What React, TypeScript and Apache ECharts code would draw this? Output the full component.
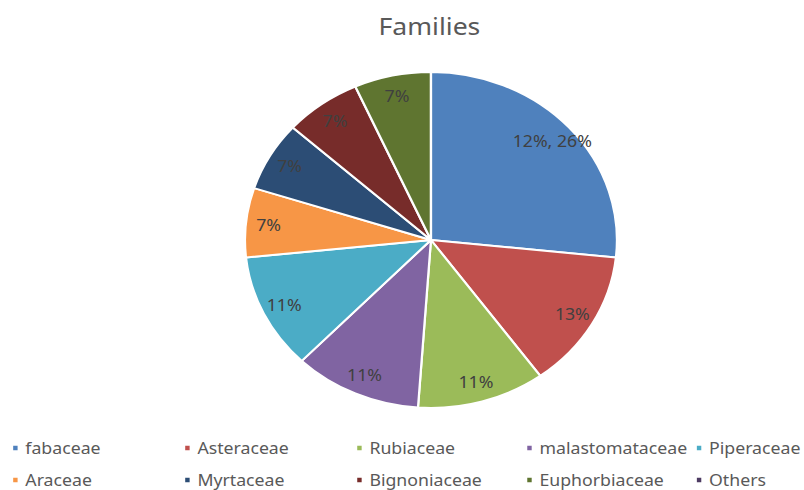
import React, { useEffect, useRef } from "react";
import * as echarts from "echarts";

const categories = [
  "fabaceae",
  "Asteraceae",
  "Rubiaceae",
  "malastomataceae",
  "Piperaceae",
  "Araceae",
  "Myrtaceae",
  "Bignoniaceae",
  "Euphorbiaceae",
  "Others",
];
const values = [12, 6, 5, 5, 5, 3, 3, 3, 3, 0];
const sliceLabels = ["12%, 26%", "13%", "11%", "11%", "11%", "7%", "7%", "7%", "7%", ""];
const colors = [
  "#4F81BD",
  "#C0504D",
  "#9BBB59",
  "#8064A2",
  "#4BACC6",
  "#F79646",
  "#2C4D75",
  "#772C2A",
  "#5F7530",
  "#4D3B62",
];
const titleText = "Families";

const STRETCH = 1.107;
const W = 804 / STRETCH;
const H = 490;

export default function App() {
  const ref = useRef<HTMLDivElement>(null);
  useEffect(() => {
    if (!ref.current) return;
    const chart = echarts.init(ref.current, undefined, { renderer: "svg" });
    const font = "'Noto Sans', 'Open Sans', sans-serif";
    const colLeft = [9.9, 165.3, 320.7, 474.3, 627.5];
    const rowTop = [440, 472];
    const legends = categories.map((name, i) => ({
      data: [name],
      left: colLeft[i % 5],
      top: rowTop[Math.floor(i / 5)],
      padding: 0,
      orient: "horizontal",
      icon: "rect",
      itemWidth: 6,
      itemHeight: 6.5,
      selectedMode: false,
      textStyle: { fontFamily: font, fontSize: 16, color: "#595959", padding: [0, 0, 0, 1] },
    }));
    const data = categories.map((name, i) => ({
      name,
      value: values[i],
      itemStyle: { color: colors[i] },
    }));
    chart.setOption({
      animation: false,
      color: colors,
      title: {
        text: titleText,
        left: 342,
        top: 14,
        padding: 0,
        textStyle: { fontFamily: font, fontSize: 24, fontWeight: "normal", color: "#595959" },
      },
      legend: legends,
      series: [
        {
          type: "pie",
          center: [389.3, 240],
          radius: [0, 168],
          startAngle: 90,
          clockwise: true,
          silent: true,
          data,
          itemStyle: { borderColor: "#ffffff", borderWidth: 2 },
          label: { show: false },
          labelLine: { show: false },
          emphasis: { disabled: true },
        },
        {
          type: "pie",
          center: [389.3, 240],
          radius: [121, 168],
          startAngle: 90,
          clockwise: true,
          silent: true,
          data: categories.map((name, i) => ({ name, value: values[i] })),
          itemStyle: { color: "transparent", borderWidth: 0 },
          label: {
            show: true,
            position: "inside",
            formatter: (p: any) => sliceLabels[p.dataIndex],
            fontFamily: font,
            fontSize: 16,
            color: "#404040",
          },
          labelLine: { show: false },
          emphasis: { disabled: true },
        },
      ],
    });
    return () => chart.dispose();
  }, []);
  return (
    <div
      ref={ref}
      style={{
        position: "absolute",
        left: 0,
        top: 0,
        width: W + "px",
        height: H + "px",
        transform: `scaleX(${STRETCH})`,
        transformOrigin: "0 0",
        background: "#ffffff",
      }}
    />
  );
}
